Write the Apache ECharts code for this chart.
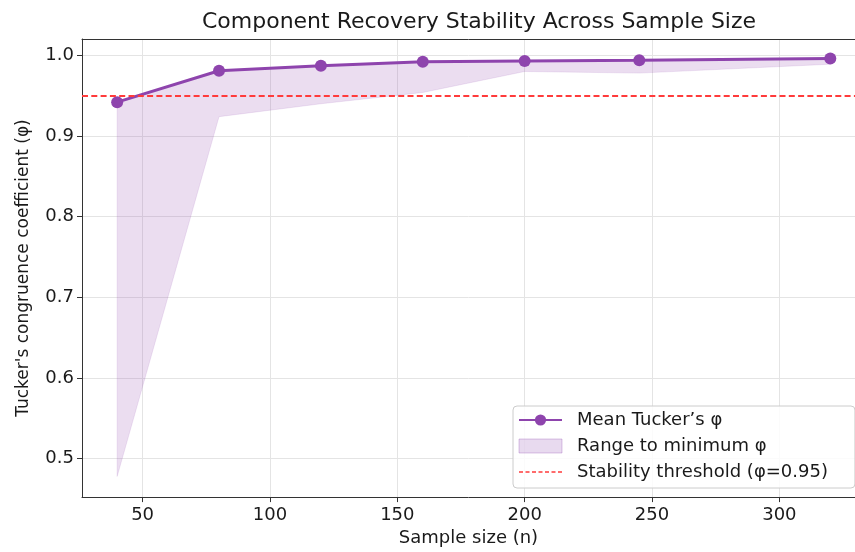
<!DOCTYPE html>
<html>
<head>
<meta charset="utf-8">
<script src="https://cdn.jsdelivr.net/npm/echarts@6/dist/echarts.min.js"></script>
<style>
  html, body { margin: 0; padding: 0; background: #ffffff; }
  #chart { width: 855px; height: 552px; }
</style>
</head>
<body>
<div id="chart"></div>
<script>
// ---- data ----
const sampleSizes = [40, 80, 120, 160, 200, 245, 320];
const meanPhi     = [0.942, 0.981, 0.987, 0.992, 0.993, 0.994, 0.996];
const minPhi      = [0.478, 0.924, 0.940, 0.954, 0.980, 0.978, 0.989];
const threshold   = 0.95;
const xTickValues = [50, 100, 150, 200, 250, 300];
const yTickValues = [0.5, 0.6, 0.7, 0.8, 0.9, 1.0];

const titleText   = 'Component Recovery Stability Across Sample Size';
const xLabel      = 'Sample size (n)';
const yLabel      = "Tucker's congruence coefficient (φ)";
const meanName    = 'Mean Tucker’s φ';
const rangeName   = 'Range to minimum φ';
const threshName  = 'Stability threshold (φ=0.95)';

// ---- build series data ----
const bandRows  = sampleSizes.map((n, i) => [n, meanPhi[i], minPhi[i]]);
const meanPairs = sampleSizes.map((n, i) => [n, meanPhi[i]]);

const FONT = '"DejaVu Sans", "Liberation Sans", sans-serif';
const PURPLE = '#8e44ad';
const RED = '#ff3b3b';
const TEXT = '#1a1a1a';
const AXIS = '#333333';

const chart = echarts.init(document.getElementById('chart'), null, { renderer: 'canvas' });

chart.setOption({
  animation: false,
  backgroundColor: '#ffffff',
  textStyle: { fontFamily: FONT },
  title: {
    text: titleText,
    left: 474,
    textAlign: 'center',
    top: 6,
    textStyle: { fontFamily: FONT, fontSize: 22, fontWeight: 'normal', color: TEXT }
  },
  grid: {
    left: 82, top: 39, right: 0, height: 459,
    show: false
  },
  legend: {
    orient: 'vertical',
    left: 513, top: 406,
    padding: [4, 27, 6, 5],
    itemGap: 6,
    itemWidth: 43, itemHeight: 14,
    backgroundColor: 'rgba(255,255,255,0.85)',
    borderColor: '#cccccc', borderWidth: 1, borderRadius: 4,
    textStyle: { fontFamily: FONT, fontSize: 18, color: TEXT, lineHeight: 20, padding: [0, 0, 0, 10] },
    data: [
      { name: meanName },
      { name: rangeName, icon: 'rect', itemStyle: { color: 'rgba(142,68,173,0.2)', borderColor: 'rgba(142,68,173,0.3)', borderWidth: 1 } },
      { name: threshName, itemStyle: { opacity: 0 }, lineStyle: { color: RED, width: 1.6, type: [4, 2.5] } }
    ]
  },
  xAxis: [
    {
      type: 'value',
      position: 'bottom',
      min: 26.2, max: 329.7,
      splitNumber: 6,
      name: xLabel,
      nameLocation: 'middle',
      nameGap: 31,
      nameTextStyle: { fontFamily: FONT, fontSize: 18, color: TEXT },
      axisLine: { show: true, onZero: false, lineStyle: { color: AXIS, width: 1 } },
      axisTick: { show: true, customValues: xTickValues, length: 5, lineStyle: { color: AXIS } },
      axisLabel: { customValues: xTickValues, fontFamily: FONT, fontSize: 18, color: TEXT, margin: 9 },
      splitLine: { show: true, lineStyle: { color: '#e4e4e4', width: 1 } }
    },
    {
      type: 'value',
      position: 'top',
      min: 26.2, max: 329.7,
      axisLine: { show: true, onZero: false, lineStyle: { color: AXIS, width: 1 } },
      axisTick: { show: false },
      axisLabel: { show: false },
      splitLine: { show: false }
    }
  ],
  yAxis: {
    type: 'value',
    min: 0.4524, max: 1.0203,
    splitNumber: 6,
    name: yLabel,
    nameLocation: 'middle',
    nameGap: 50,
    nameTextStyle: { fontFamily: FONT, fontSize: 17, color: TEXT },
    axisLine: { show: true, onZero: false, lineStyle: { color: AXIS, width: 1 } },
    axisTick: { show: true, customValues: yTickValues, length: 5, lineStyle: { color: AXIS } },
    axisLabel: {
      customValues: yTickValues, fontFamily: FONT, fontSize: 18, color: TEXT, margin: 8,
      formatter: v => v.toFixed(1)
    },
    splitLine: { show: true, lineStyle: { color: '#e4e4e4', width: 1 } }
  },
  series: [
    {
      name: rangeName,
      type: 'custom',
      data: bandRows,
      encode: { x: 0, y: [1, 2] },
      silent: true,
      clip: true,
      itemStyle: { color: 'rgba(142,68,173,0.2)' },
      renderItem: (params, api) => {
        if (params.dataIndex !== 0) return null;
        const upper = bandRows.map(r => api.coord([r[0], r[1]]));
        const lower = bandRows.map(r => api.coord([r[0], r[2]])).reverse();
        return {
          type: 'polygon',
          shape: { points: upper.concat(lower) },
          style: { fill: 'rgba(142,68,173,0.18)', stroke: 'rgba(142,68,173,0.12)', lineWidth: 1 }
        };
      },
      z: 1
    },
    {
      name: threshName,
      type: 'line',
      data: [],
      symbol: 'none',
      itemStyle: { color: RED },
      lineStyle: { color: RED, width: 2, type: [6, 3.3] },
      markLine: {
        silent: true,
        symbol: 'none',
        label: { show: false },
        lineStyle: { color: RED, width: 2, type: [6, 3.3] },
        data: [{ yAxis: threshold }]
      },
      z: 2
    },
    {
      name: meanName,
      type: 'line',
      data: meanPairs,
      symbol: 'circle',
      symbolSize: 12,
      itemStyle: { color: PURPLE },
      lineStyle: { color: PURPLE, width: 3 },
      z: 3
    }
  ]
});
</script>
</body>
</html>
